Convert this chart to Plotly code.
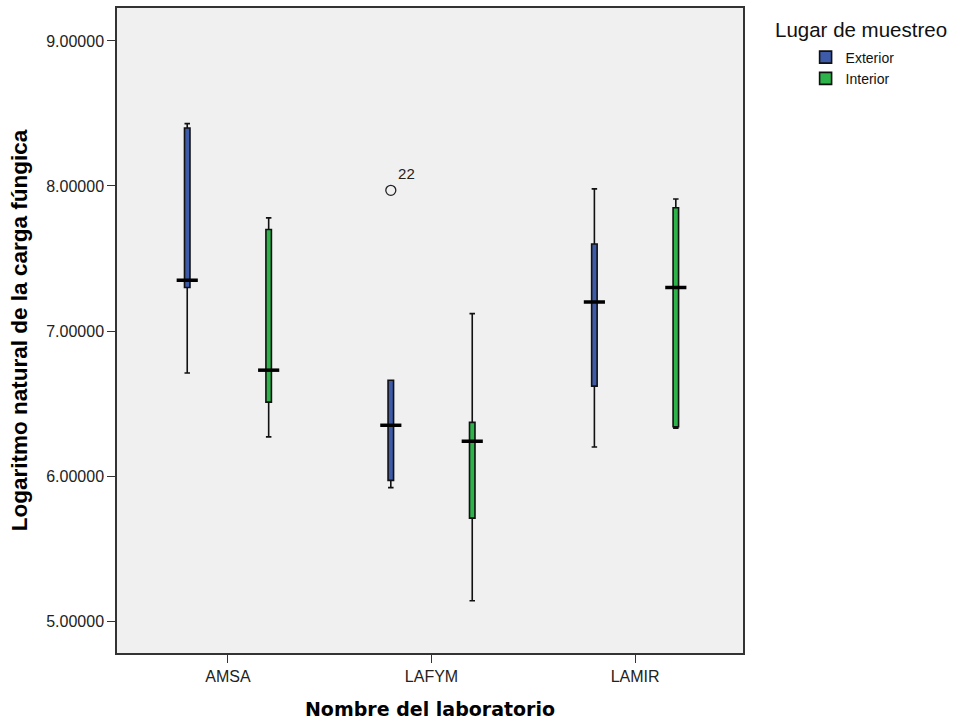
import plotly.graph_objects as go

categories = ["AMSA", "LAFYM", "LAMIR"]
groups = ["Exterior", "Interior"]

# per group, per category
lowerfence = {"Exterior": [6.71, 5.92, 6.20], "Interior": [6.27, 5.14, 6.33]}
q1 = {"Exterior": [7.30, 5.97, 6.62], "Interior": [6.51, 5.71, 6.34]}
median = {"Exterior": [7.35, 6.35, 7.20], "Interior": [6.73, 6.24, 7.30]}
q3 = {"Exterior": [8.40, 6.66, 7.60], "Interior": [7.70, 6.37, 7.85]}
upperfence = {"Exterior": [8.43, 6.66, 7.98], "Interior": [7.78, 7.12, 7.91]}

outlier_cat = ["LAFYM"]
outlier_group = ["Exterior"]
outlier_val = [7.97]
outlier_label = ["22"]

colors = {"Exterior": "#3E5BA9", "Interior": "#2DB34A"}
offsets = {"Exterior": -0.2, "Interior": 0.2}
yticks = [5.0, 6.0, 7.0, 8.0, 9.0]

fig = go.Figure()
for g in groups:
    xs = [i + offsets[g] for i in range(len(categories))]
    fig.add_trace(go.Box(
        x=xs, q1=q1[g], median=median[g], q3=q3[g],
        lowerfence=lowerfence[g], upperfence=upperfence[g],
        name=g, width=0.027, whiskerwidth=1,
        fillcolor=colors[g], line=dict(color="#111111", width=1.6),
        boxpoints=False, hoverinfo="skip",
    ))
    # thick median lines, wider than the box
    mx, my = [], []
    for i, m in enumerate(median[g]):
        mx += [xs[i] - 0.052, xs[i] + 0.052, None]
        my += [m, m, None]
    fig.add_trace(go.Scatter(x=mx, y=my, mode="lines",
                             line=dict(color="black", width=3.5),
                             showlegend=False, hoverinfo="skip"))

ox = [categories.index(c) + offsets[g] for c, g in zip(outlier_cat, outlier_group)]
fig.add_trace(go.Scatter(
    x=ox, y=outlier_val, mode="markers+text", text=outlier_label,
    textposition="top right",
    textfont=dict(family="Liberation Sans", size=15, color="#222222"),
    marker=dict(symbol="circle-open", size=10, color="#222222", line=dict(width=1.3)),
    showlegend=False, hoverinfo="skip"))

fig.update_layout(
    width=954, height=726,
    margin=dict(l=117, r=211, t=6, b=73),
    paper_bgcolor="white", plot_bgcolor="#F0F0F0",
    font=dict(family="Liberation Sans", color="#222222"),
    showlegend=True,
    legend=dict(x=1.1, y=0.948, xanchor="left", yanchor="top",
                font=dict(family="Liberation Sans", size=14, color="#111111"),
                itemwidth=30, tracegroupgap=0, bgcolor="rgba(0,0,0,0)"),
    annotations=[dict(text="Lugar de muestreo", xref="paper", yref="paper",
                      x=1.048, y=0.988, xanchor="left", yanchor="top", showarrow=False,
                      font=dict(family="Liberation Sans", size=20.5, color="#111111"))],
    xaxis=dict(
        range=[-0.545, 2.53], tickmode="array",
        tickvals=list(range(len(categories))), ticktext=categories,
        ticks="outside", ticklen=8, tickcolor="#333333",
        showgrid=False, zeroline=False, showline=True, mirror=True,
        linecolor="#333333", linewidth=1.5,
        tickfont=dict(family="Liberation Sans", size=16, color="#222222"),
        title=dict(text="<b>Nombre del laboratorio</b>", standoff=19,
                   font=dict(family="DejaVu Sans", size=19, color="black")),
    ),
    yaxis=dict(
        range=[4.78, 9.227], tickmode="array", tickvals=yticks,
        ticktext=[f"{v:.5f}" for v in yticks],
        ticks="outside", ticklen=8, tickcolor="#333333",
        showgrid=False, zeroline=False, showline=True, mirror=True,
        linecolor="#333333", linewidth=1.5,
        tickfont=dict(family="Liberation Sans", size=16, color="#222222"),
        title=dict(text="<b>Logaritmo natural de la carga fúngica</b>", standoff=12,
                   font=dict(family="Liberation Sans", size=22.5, color="black")),
    ),
)

fig.write_html("out.html")
